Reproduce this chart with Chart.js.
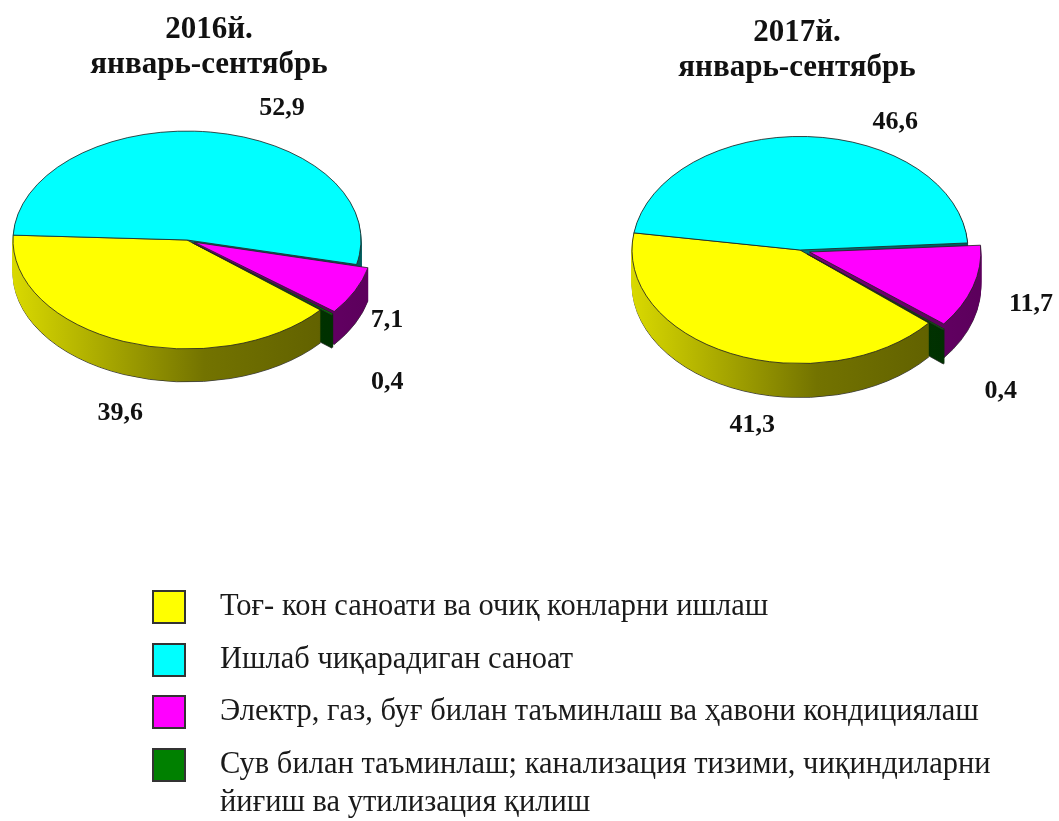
<!DOCTYPE html>
<html>
<head>
<meta charset="utf-8">
<script src="https://cdn.jsdelivr.net/npm/chart.js@4.4.0/dist/chart.umd.min.js"></script>
<style>
    html, body { margin: 0; padding: 0; background: #fff; }
    #page {
        position: relative; width: 1059px; height: 821px; overflow: hidden;
        font-family: "Liberation Serif", "Times New Roman", serif; color: #1a1a1a;
    }
    canvas { position: absolute; left: 0; top: 0; pointer-events: none; }
    .title {
        position: absolute; width: 400px; text-align: center;
        font-weight: bold; font-size: 31px; line-height: 35px; color: #111;
    }
    .legend-row { position: absolute; left: 152px; }
    .swatch { position: absolute; left: 0; top: 0; width: 30px; height: 30px; border: 2px solid #333; }
    .legend-text {
        position: absolute; left: 68px; top: -4px; width: 800px;
        font-size: 30.5px; line-height: 38px;
    }
</style>
</head>
<body>
<div id="page">
    <canvas id="pie2016" width="1059" height="821"></canvas>
    <canvas id="pie2017" width="1059" height="821"></canvas>
</div>
<script>
// Data: industry structure, %
const categories = [
    'Тоғ- кон саноати ва очиқ конларни ишлаш',
    'Ишлаб чиқарадиган саноат',
    'Электр, газ, буғ билан таъминлаш ва ҳавони кондициялаш',
    'Сув билан таъминлаш; канализация тизими, чиқиндиларни йиғиш ва утилизация қилиш'
];
const sliceColors = ['#ffff00', '#00ffff', '#ff00ff', '#008000'];
const years = ['2016й.', '2017й.'];
const period = 'январь-сентябрь';
const values2016 = [39.6, 52.9, 7.1, 0.4];
const values2017 = [41.3, 46.6, 11.7, 0.4];

const W = 1059, H = 821;

function shade(hex, f) {
    const n = parseInt(hex.slice(1), 16);
    const r = Math.round(((n >> 16) & 255) * f);
    const g = Math.round(((n >> 8) & 255) * f);
    const b = Math.round((n & 255) * f);
    return 'rgb(' + r + ',' + g + ',' + b + ')';
}

// Fake 3D: squash the pie vertically and extrude side walls below it
const pie3d = {
    id: 'pie3d',
    beforeDatasetsDraw(chart, args, opts) {
        const ctx = chart.ctx;
        const arcs = chart.getDatasetMeta(0).data;
        if (!arcs.length) return;
        const cx = arcs[0].x, cy = arcs[0].y, R = arcs[0].outerRadius;
        const base = chart.data.datasets[0].backgroundColor;

        ctx.save();
        ctx.translate(0, cy);
        ctx.scale(1, opts.tilt);
        ctx.translate(0, -cy);

        const walls = arcs.map(function (arc, i) {
            const g = ctx.createLinearGradient(cx - R, 0, cx + R, 0);
            g.addColorStop(0, shade(base[i], 0.85));
            g.addColorStop(0.55, shade(base[i], 0.45));
            g.addColorStop(1, shade(base[i], 0.36));
            return g;
        });

        for (let d = opts.depth; d >= 1; d--) {
            ctx.save();
            ctx.translate(0, d / opts.tilt);
            arcs.forEach(function (arc, i) {
                const saved = arc.options;
                arc.options = Object.assign({}, saved, {
                    backgroundColor: walls[i],
                    borderColor: d === opts.depth ? '#333' : walls[i]
                });
                arc.draw(ctx);
                arc.options = saved;
            });
            ctx.restore();
        }
    },
    afterDatasetsDraw(chart, args, opts) {
        const ctx = chart.ctx;
        ctx.restore();

        // value labels outside the slices
        const arcs = chart.getDatasetMeta(0).data;
        const values = chart.data.datasets[0].data;
        ctx.save();
        ctx.font = 'bold 26px "Liberation Serif", serif';
        ctx.fillStyle = '#111';
        ctx.textAlign = 'center';
        ctx.textBaseline = 'middle';
        arcs.forEach(function (arc, i) {
            const mid = (arc.startAngle + arc.endAngle) / 2;
            const off = (arc.options.offset || 0) / 4;
            const fix = 1 - Math.sin(Math.min(Math.PI, arc.circumference));
            const rr = arc.outerRadius + off * (1 + fix);
            const c = Math.cos(mid), s = Math.sin(mid);
            const ex = arc.x + c * rr;
            const ey = arc.y + s * rr * opts.tilt + (s > 0 ? opts.depth : 0);
            const nudge = opts.labelNudge[i];
            const txt = values[i].toFixed(1).replace('.', ',');
            ctx.fillText(txt, ex + c * opts.labelGap + nudge[0], ey + s * opts.labelGap + nudge[1]);
        });
        ctx.restore();
    }
};

function makePie(canvasId, values, geo) {
    const a = 100;
    return new Chart(document.getElementById(canvasId), {
        type: 'pie',
        data: {
            labels: categories,
            datasets: [{
                data: values,
                backgroundColor: sliceColors,
                borderColor: '#222',
                borderWidth: 1,
                offset: geo.offsets,
                clip: false
            }]
        },
        options: {
            responsive: false,
            animation: false,
            events: [],
            rotation: geo.rotation,
            radius: geo.radius,
            layout: {
                padding: { left: geo.cx - a, right: W - geo.cx - a, top: geo.cy - a, bottom: H - geo.cy - a }
            },
            plugins: {
                legend: { display: false },
                tooltip: { enabled: false },
                pie3d: { tilt: geo.tilt, depth: geo.depth, labelGap: 40, labelNudge: geo.labelNudge }
            }
        },
        plugins: [pie3d]
    });
}

makePie('pie2016', values2016, {
    cx: 187, cy: 240, radius: 174, tilt: 0.626, depth: 33, rotation: 130, offsets: [0, 0, 32, 28],
    labelNudge: [[11, 2], [66, 16], [-4, -21], [24, 10]]
});
makePie('pie2017', values2017, {
    cx: 800, cy: 250, radius: 168, tilt: 0.676, depth: 34, rotation: 130, offsets: [0, 0, 40, 36],
    labelNudge: [[38, 1], [86, 26], [20, -29], [26, 2]]
});

// Titles
const page = document.getElementById('page');
const titlePos = [{ x: 209, y: 10 }, { x: 797, y: 13 }];
years.forEach(function (y, i) {
    const el = document.createElement('div');
    el.className = 'title';
    el.style.left = (titlePos[i].x - 200) + 'px';
    el.style.top = titlePos[i].y + 'px';
    el.innerHTML = y + '<br>' + period;
    page.appendChild(el);
});

// Legend
categories.forEach(function (name, i) {
    const row = document.createElement('div');
    row.className = 'legend-row';
    row.style.top = (590 + i * 52.7) + 'px';
    const sw = document.createElement('div');
    sw.className = 'swatch';
    sw.style.background = sliceColors[i];
    const tx = document.createElement('div');
    tx.className = 'legend-text';
    tx.textContent = name;
    row.appendChild(sw);
    row.appendChild(tx);
    page.appendChild(row);
});
</script>
</body>
</html>
